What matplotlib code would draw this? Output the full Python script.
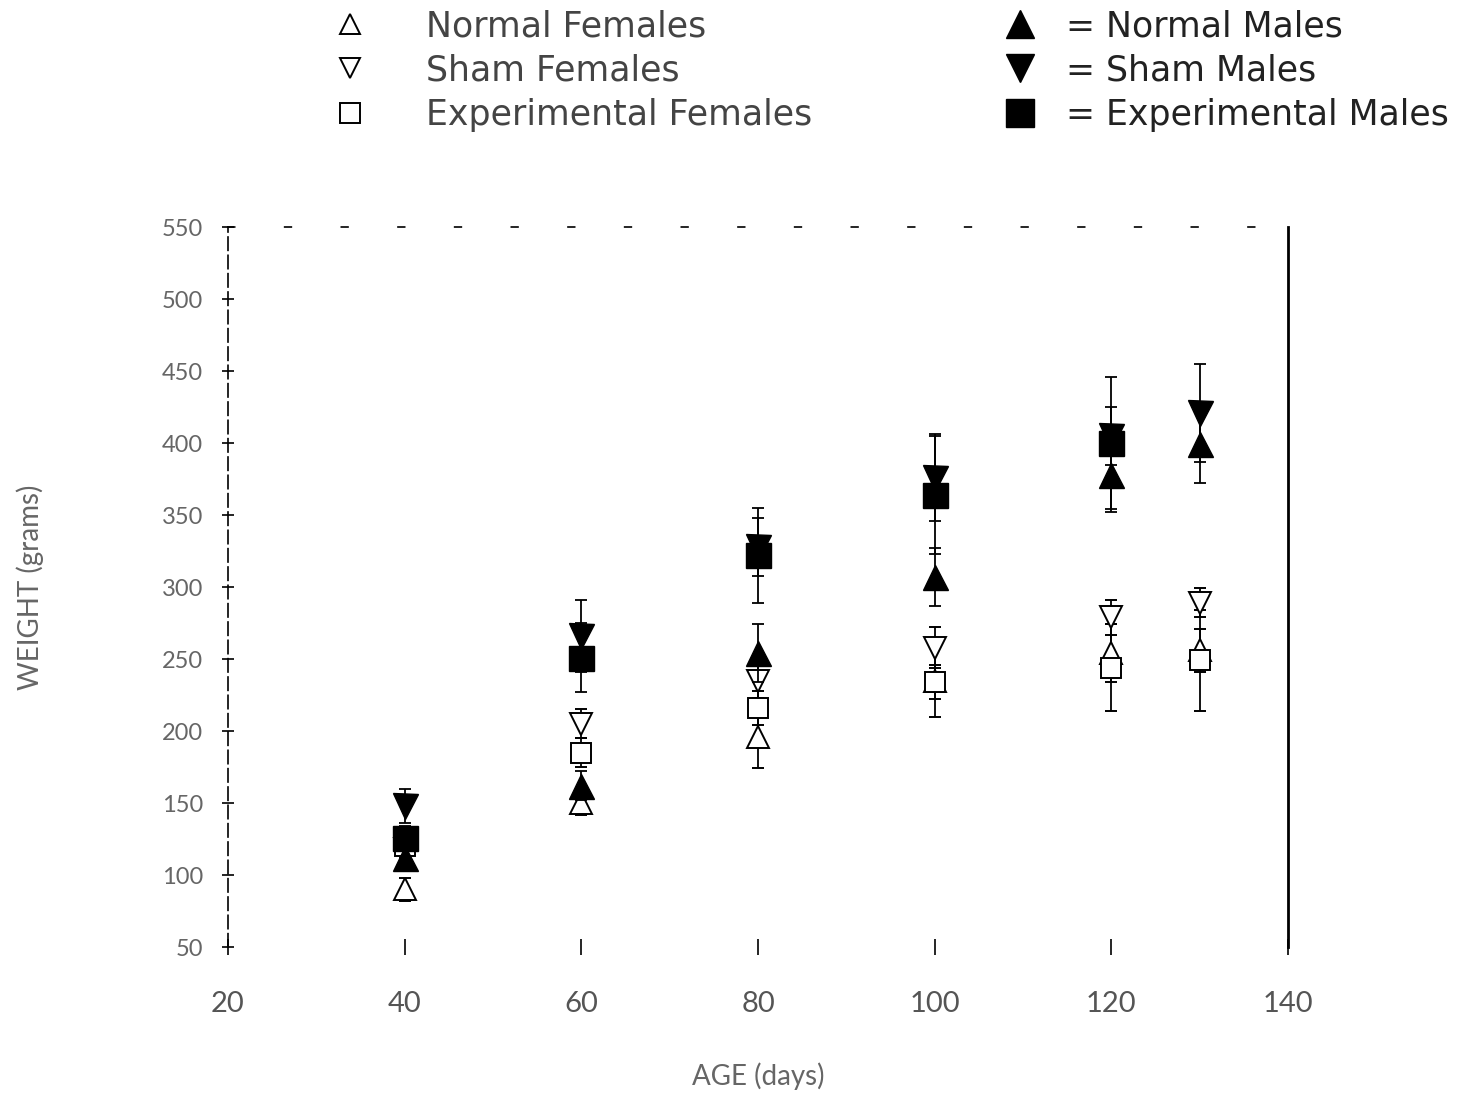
import matplotlib.pyplot as plt
import numpy as np
from matplotlib.lines import Line2D

plt.rcParams['font.family'] = ['Lato', 'DejaVu Sans']

# ages (days)
age = [40, 60, 80, 100, 120, 130]

# mean weight (g) and SD
normal_f = [90, 150, 196, 235, 254, 256]
normal_f_sd = [8, 8, 22, 25, 20, 15]
sham_f = [118, 205, 235, 258, 279, 289]
sham_f_sd = [6, 10, 12, 14, 12, 10]
exp_f = [120, 185, 216, 234, 244, 249]
exp_f_sd = [6, 10, 12, 12, 30, 35]

normal_m = [112, 162, 254, 307, 378, 399]
normal_m_sd = [8, 10, 20, 20, 26, 27]
sham_m = [148, 266, 328, 376, 405, 421]
sham_m_sd = [12, 25, 20, 30, 20, 34]
exp_m = [126, 251, 322, 364, 400, np.nan]
exp_m_sd = [8, 24, 33, 41, 46, np.nan]

xticks = [20, 40, 60, 80, 100, 120, 140]
yticks = [50, 100, 150, 200, 250, 300, 350, 400, 450, 500, 550]

fig = plt.figure(figsize=(14.68, 11.07), dpi=100)
ax = fig.add_axes([0.1553, 0.1445, 0.7221, 0.6504])

eb = dict(color='black', elinewidth=1.3, capsize=4, capthick=1.3, linestyle='none')
open_kw = dict(mfc='white', mec='black', mew=1.4)

ax.errorbar(age, normal_f, yerr=normal_f_sd, marker='^', ms=16, zorder=2, **open_kw, **eb)
ax.errorbar(age, sham_f, yerr=sham_f_sd, marker='v', ms=16, zorder=2, **open_kw, **eb)
ax.errorbar(age, exp_f, yerr=exp_f_sd, marker='s', ms=15, zorder=2, **open_kw, **eb)

ax.errorbar(age, normal_m, yerr=normal_m_sd, marker='^', ms=18, mfc='black', mec='black', zorder=3, **eb)
ax.errorbar(age, sham_m, yerr=sham_m_sd, marker='v', ms=18, mfc='black', mec='black', zorder=3, **eb)
ax.errorbar(age, exp_m, yerr=exp_m_sd, marker='s', ms=18, mfc='black', mec='black', zorder=4, **eb)

ax.set_xlim(20, 140)
ax.set_ylim(50, 550)
ax.set_xticks(xticks)
ax.set_yticks(yticks)
ax.set_xticklabels([str(v) for v in xticks], fontsize=21, color='#555555')
ax.set_yticklabels([str(v) for v in yticks], fontsize=17, color='#666666')
ax.tick_params(axis='x', direction='inout', length=12, width=1.2, pad=26)
ax.tick_params(axis='y', direction='inout', length=8, width=1.2, pad=14)

ax.spines['bottom'].set_visible(False)
ax.spines['left'].set_linewidth(1.2)
ax.spines['left'].set_linestyle((0, (8, 3)))
ax.spines['right'].set_linewidth(2)
ax.spines['top'].set_linewidth(1.2)
ax.spines['top'].set_linestyle((0, (4, 30)))

ax.set_xlabel('AGE (days)', fontsize=20, color='#666666', labelpad=32)
ax.set_ylabel('WEIGHT (grams)', fontsize=20, color='#666666', labelpad=85)

# legends
fem = [Line2D([], [], marker='^', ms=14, linestyle='none', **open_kw),
       Line2D([], [], marker='v', ms=14, linestyle='none', **open_kw),
       Line2D([], [], marker='s', ms=14, linestyle='none', **open_kw)]
mal = [Line2D([], [], marker='^', ms=20, linestyle='none', color='black'),
       Line2D([], [], marker='v', ms=20, linestyle='none', color='black'),
       Line2D([], [], marker='s', ms=20, linestyle='none', color='black')]

leg_font = {'size': 25, 'family': 'DejaVu Sans'}
leg1 = fig.legend(fem, ['Normal Females', 'Sham Females', 'Experimental Females'],
                  loc='upper left', bbox_to_anchor=(0.205, 1.02), frameon=False,
                  labelspacing=0.3, handletextpad=1.7, handlelength=1.0,
                  prop=leg_font)
leg2 = fig.legend(mal, ['= Normal Males', '= Sham Males', '= Experimental Males'],
                  loc='upper left', bbox_to_anchor=(0.662, 1.02), frameon=False,
                  labelspacing=0.3, handletextpad=0.8, handlelength=1.0,
                  prop=leg_font)
for t in leg1.get_texts():
    t.set_color('#444444')
for t in leg2.get_texts():
    t.set_color('#222222')

fig.savefig('out.png', dpi=100)
